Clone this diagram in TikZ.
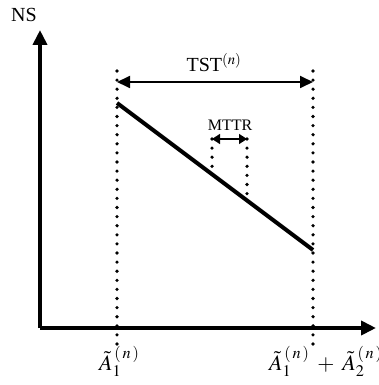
\documentclass[tikz,border=0pt]{standalone}
\usepackage{mathptmx}
\usepackage{fontspec}
\setmainfont{Liberation Serif}
\usetikzlibrary{arrows.meta}
\begin{document}
\begin{tikzpicture}[x=1pt,y=-1pt,
  axis/.style={line width=4pt,-{Triangle[length=15pt,width=14pt]}},
  dotline/.style={line width=3.6pt,line cap=round,dash pattern=on 0pt off 9.1pt},
  dimarrow/.style={line width=1.8pt,{Triangle[length=13pt,width=12pt]}-{Triangle[length=13pt,width=12pt]}},
  smallarrow/.style={line width=1.5pt,{Triangle[length=8pt,width=10pt]}-{Triangle[length=8pt,width=10pt]}},
  lbl/.style={inner sep=0pt,font=\fontsize{20}{24}\selectfont},
  mlbl/.style={inner sep=0pt,font=\fontsize{22}{26}\selectfont},
  slbl/.style={inner sep=0pt,font=\fontsize{16}{19}\selectfont}]
\useasboundingbox (0,0) rectangle (379,385);
% axes
\coordinate (O) at (40,328);
\coordinate (ytip) at (40,30);
\coordinate (xtip) at (376,328);
\draw[axis] (O) -- (ytip);
\draw[axis] (O) -- (xtip);
\node[lbl,anchor=base west] (ns) at (11,22) {NS};
% dotted verticals
\coordinate (l1) at (117,71);
\coordinate (l2) at (117,345);
\coordinate (r1) at (313,71);
\coordinate (r2) at (313,345);
\draw[dotline] (l1) -- (l2);
\draw[dotline] (r1) -- (r2);
% TST arrow
\coordinate (ta) at (117,82);
\coordinate (tb) at (313,82);
\draw[dimarrow] (ta) -- (tb);
\node[lbl,anchor=base] (tst) at (214,72) {TST$^{(n)}$};
% sloped line
\coordinate (s1) at (117,103);
\coordinate (s2) at (313,250);
\draw[line width=4pt] (s1) -- (s2);
% MTTR
\coordinate (m1) at (212,139);
\coordinate (m2) at (212,168);
\coordinate (m3) at (247,139);
\coordinate (m4) at (247,196);
\draw[dotline] (m1) -- (m2);
\draw[dotline] (m3) -- (m4);
\draw[smallarrow] (m1) -- (m3);
\node[slbl,anchor=base] (mttr) at (230,131) {MTTR};
% bottom labels
\node[mlbl,anchor=base west] (a1) at (99,370) {$\tilde{A}_1^{\,(\,n\,)}$};
\node[mlbl,anchor=base west] (a2) at (269,370) {$\tilde{A}_1^{\,(\,n\,)}\;+\;\tilde{A}_2^{\,(\,n\,)}$};
\end{tikzpicture}
\end{document}
